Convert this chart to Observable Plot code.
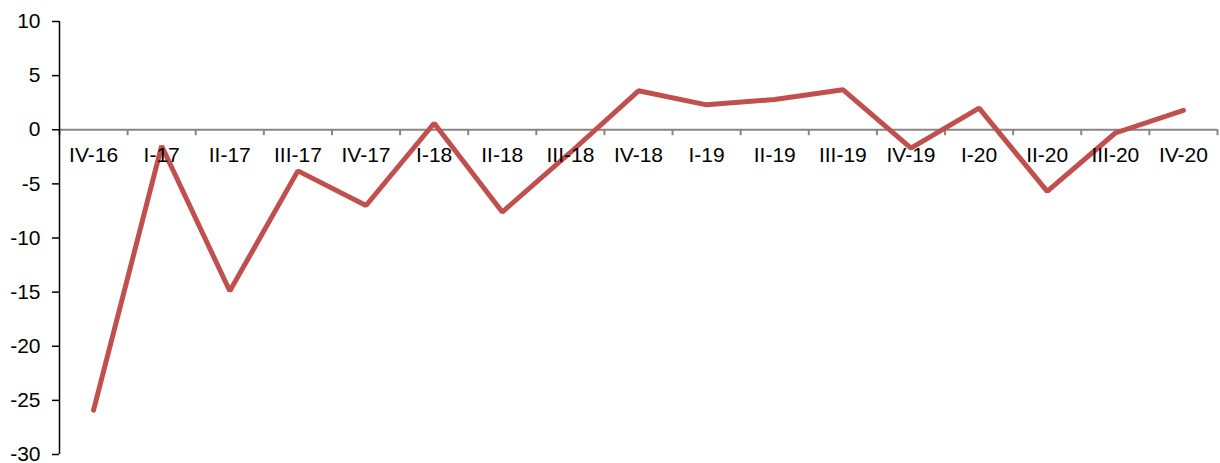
<!DOCTYPE html>
<html>
<head>
<meta charset="utf-8">
<script src="https://cdn.jsdelivr.net/npm/d3@7"></script>
<script src="https://cdn.jsdelivr.net/npm/@observablehq/plot@0.6"></script>
<style>
  html, body { margin: 0; padding: 0; background: #fff; }
  #chart svg { display: block; overflow: visible; }
  #chart svg text { font-family: "Liberation Sans", Arial, sans-serif !important; font-size: 21px !important; }
</style>
</head>
<body>
<div id="chart"></div>
<script>
const categories = ["IV-16","I-17","II-17","III-17","IV-17","I-18","II-18","III-18","IV-18","I-19","II-19","III-19","IV-19","I-20","II-20","III-20","IV-20"];
const values = [-25.9, -1.5, -14.9, -3.8, -7.0, 0.6, -7.6, -2.1, 3.6, 2.3, 2.8, 3.7, -1.7, 2.0, -5.7, -0.3, 1.8];
const yTicks = [-30, -25, -20, -15, -10, -5, 0, 5, 10];

const data = categories.map((c, i) => ({cat: c, pos: i + 0.5, value: values[i]}));
const bandEdges = d3.range(0, categories.length + 1);

const chart = Plot.plot({
  width: 1220,
  height: 463,
  marginLeft: 59,
  marginRight: 3,
  marginTop: 21,
  marginBottom: 9,
  style: {fontFamily: "'Liberation Sans', Arial, sans-serif", fontSize: "21px", color: "#000", background: "#fff"},
  x: {type: "linear", domain: [0, categories.length], axis: null},
  y: {domain: [-30, 10], ticks: yTicks},
  marks: [
    Plot.ruleY([0], {stroke: "#868686", strokeWidth: 2}),
    Plot.ruleX(bandEdges, {x: d => d, y1: 0, y2: -0.55, stroke: "#868686", strokeWidth: 2}),
    Plot.axisY({ticks: yTicks, tickFormat: d => String(d), tickSize: 7, tickPadding: 12, stroke: "#000", strokeWidth: 1.5, fontSize: 21, fill: "#000", label: null}),
    Plot.ruleX([0], {stroke: "#000", strokeWidth: 1.5}),
    Plot.line(data, {x: "pos", y: "value", stroke: "#C0504D", strokeWidth: 5, strokeLinejoin: "miter", strokeLinecap: "round"}),
    Plot.text(data, {x: "pos", y: 0, dy: 26, text: "cat", fontSize: 21, fill: "#000"})
  ]
});
document.getElementById("chart").appendChild(chart);
</script>
</body>
</html>
